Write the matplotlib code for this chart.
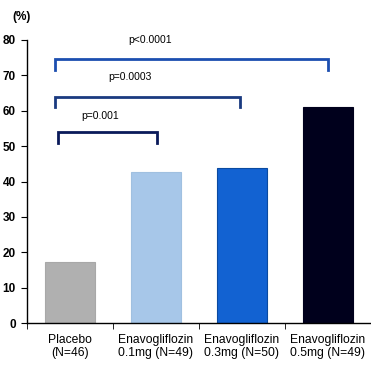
import matplotlib
matplotlib.use("Agg")
import matplotlib.pyplot as plt

categories = ["Placebo\n(N=46)", "Enavogliflozin\n0.1mg (N=49)", "Enavogliflozin\n0.3mg (N=50)", "Enavogliflozin\n0.5mg (N=49)"]
values = [17.2, 42.6, 43.8, 61.2]
colors = ["#b0b0b0", "#a7c7e9", "#1262d2", "#00001c"]
edges = ["#a8a8a8", "#a0c0e0", "#0a4aa0", "#00001c"]
yticks = [0, 10, 20, 30, 40, 50, 60, 70, 80]
# brackets: (x_start, x_end, y_top, y_leg, label, label_x, label_y, color)
brackets = [
    (-0.14, 1.01, 54.0, 51.0, "p=0.001", 0.35, 58.5, "#0a1a5a"),
    (-0.17, 1.98, 64.0, 61.0, "p=0.0003", 0.70, 69.5, "#1a3a80"),
    (-0.17, 3.0, 74.6, 71.5, "p<0.0001", 0.93, 80.0, "#1c4eb0"),
]

plt.rcParams['font.family'] = ['Liberation Sans', 'DejaVu Sans']
fig = plt.figure(figsize=(3.71, 3.71), dpi=100)
ax = fig.add_axes([27/371, 48/371, 344/371, 283/371])
x = list(range(len(categories)))
ax.bar(x, values, width=0.58, color=colors, edgecolor=edges, linewidth=0.8)
ax.set_xlim(-0.5, 3.5)
ax.set_ylim(0, 80)
ax.set_yticks(yticks)
ax.set_yticklabels([str(t) for t in yticks], fontsize=8.5, fontweight='bold')
ax.set_xticks(x)
ax.set_xticklabels(categories, fontsize=8.7, linespacing=1.05)
ax.tick_params(axis='x', length=0, pad=8)
ax.set_xticks([-0.5, 0.5, 1.5, 2.5, 3.5], minor=True)
ax.tick_params(axis='x', which='minor', length=4, direction='out')
ax.tick_params(axis='y', length=4, direction='out', pad=4)
for s in ['top', 'right']:
    ax.spines[s].set_visible(False)
ax.spines['left'].set_linewidth(1)
ax.spines['bottom'].set_linewidth(1)

for x0, x1, yt, yl, lab, lx, ly, c in brackets:
    ax.plot([x0, x0, x1, x1], [yl, yt, yt, yl], color=c, lw=2, solid_joinstyle='miter', clip_on=False)
    ax.text(lx, ly, lab, ha='center', va='center', fontsize=7.5, clip_on=False)

fig.text(12/371, 1 - 17/371, "(%)", fontsize=8.5, fontweight='bold', va='center', ha='left')
fig.savefig("out.png", dpi=100)
